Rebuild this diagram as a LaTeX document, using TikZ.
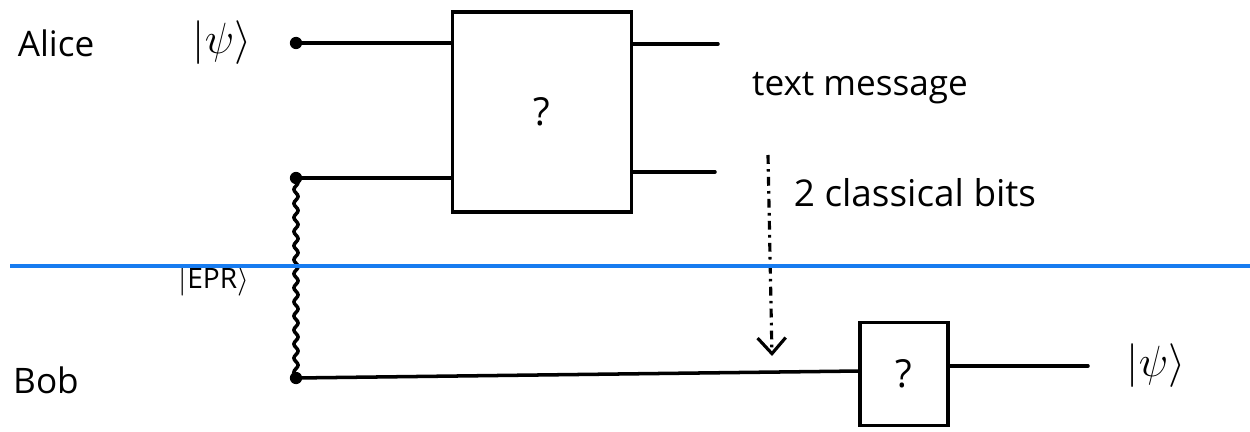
\documentclass[tikz,border=0pt]{standalone}
\usepackage{fontspec}
\setmainfont{Open Sans}
\usetikzlibrary{arrows.meta,decorations.pathmorphing}
\begin{document}
\begin{tikzpicture}[x=0.02cm,y=-0.02cm,
  wire/.style={line width=2pt,line cap=round},
  dotn/.style={circle,fill=black,inner sep=0pt,minimum size=7pt},
  lbl/.style={font=\fontsize{20}{23}\selectfont,inner sep=0pt},
  ket/.style={font=\fontsize{24}{26}\selectfont,inner sep=0pt},
  gate/.style={draw,line width=2pt,inner sep=0pt,font=\fontsize{22}{24}\selectfont}]
\useasboundingbox (0,0) rectangle (1250,432);
% labels
\node[lbl] (alice) at (56,43) {Alice};
\node[ket] (psiin) at (222,43) {$|\psi\rangle$};
\node[lbl] (bob) at (46,380) {Bob};
\node[lbl,font=\fontsize{16}{18}\selectfont] (epr) at (214,281) {$|$EPR$\rangle$};
\node[lbl] (msg) at (860,88) {text message};
\node[lbl,font=\fontsize{21}{24}\selectfont] (bits) at (915,193) {2 classical bits};
\node[ket] (psiout) at (1156,366) {$|\psi\rangle$};
% gates
\node[gate,minimum width=3.58cm,minimum height=4cm] (U) at (542,112) {?};
\node[gate,minimum width=1.76cm,minimum height=2.06cm] (V) at (904,374) {?};
% dots
\node[dotn] (a1) at (296,43) {};
\node[dotn] (a2) at (296,178) {};
\node[dotn] (b1) at (296,378) {};
% wires
\coordinate (u1) at (U.west |- a1);
\coordinate (u2) at (U.west |- a2);
\draw[wire] (a1.center) -- (u1);
\draw[wire] (a2.center) -- (u2);
\coordinate (o1) at (718,44);
\coordinate (o2) at (715,172);
\draw[wire] (U.east |- o1) -- (o1);
\draw[wire] (U.east |- o2) -- (o2);
\draw[wire,decorate,decoration={snake,amplitude=1.2pt,segment length=8pt}] (a2.center) -- (b1.center);
\coordinate (vin) at (860,371);
\draw[wire] (b1.center) -- (vin);
\coordinate (vout) at (1088,366);
\draw[wire] (V.east |- vout) -- (vout);
% classical message arrow
\coordinate (c1) at (768,155);
\coordinate (c2) at (772,356);
\draw[line width=1.8pt,dash pattern=on 5pt off 3pt on 1.5pt off 3pt,-{Straight Barb[length=9pt,width=16pt,line width=1.8pt]}] (c1) -- (c2);
% separator
\coordinate (s1) at (10,266);
\coordinate (s2) at (1250,266);
\draw[line width=2.2pt,color={rgb,255:red,24;green,124;blue,240}] (s1) -- (s2);
\end{tikzpicture}
\end{document}
